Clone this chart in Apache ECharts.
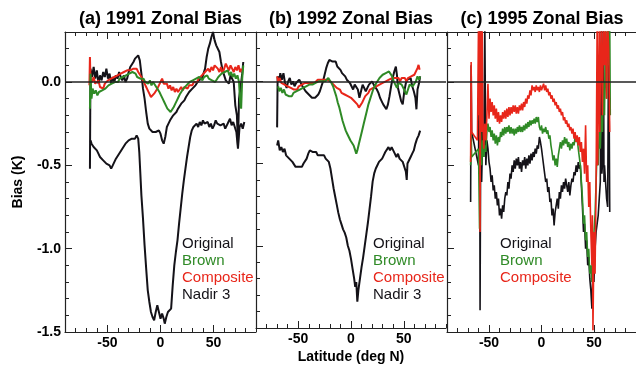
<!DOCTYPE html>
<html>
<head>
<meta charset="utf-8">
<script src="https://cdn.jsdelivr.net/npm/echarts@6/dist/echarts.min.js"></script>
<style>
  html, body { margin: 0; padding: 0; background: #fff; }
  #chart { width: 636px; height: 369px; }
</style>
</head>
<body>
<div id="chart"></div>
<script>
// zonal bias (K) vs latitude (deg N)
const panelTitles = ['(a) 1991 Zonal Bias', '(b) 1992 Zonal Bias', '(c) 1995 Zonal Bias'];
const xLabels = [-50, 0, 50];
const yLabels = [0, -0.5, -1.0, -1.5];

const orig1991 = [[-66.5,-0.52],[-66,0.08],[-64.5,0.03],[-63,0.09],[-61.5,0.02],[-60,0.07],[-58.5,-0.01],[-57,0.04],[-55.5,0.01],[-54,0.06],[-52.5,0.03],[-51,0.08],[-49.5,0.02],[-48,0.05],[-46.5,-0.01],[-45,0.03],[-43.5,0.0],[-42,0.04],[-40.5,0.02],[-39,0.06],[-37.5,0.03],[-36,0.01],[-34.5,0.04],[-33,0.0],[-31.5,0.02],[-30,0.06],[-28.5,0.09],[-27,0.1],[-25.5,0.12],[-24,0.14],[-22.5,0.15],[-21,0.16],[-19.5,0.13],[-18,0.05],[-16.5,-0.04],[-15,-0.1],[-13.5,-0.18],[-12,-0.25],[-10.5,-0.28],[-9,-0.29],[-7.5,-0.3],[-6,-0.29],[-4.5,-0.3],[-3,-0.3],[-1.5,-0.29],[0,-0.31],[1.5,-0.35],[3,-0.37],[4.5,-0.33],[6,-0.27],[7.5,-0.25],[9,-0.23],[10.5,-0.22],[12,-0.2],[13.5,-0.19],[15,-0.18],[16.5,-0.16],[18,-0.15],[19.5,-0.13],[21,-0.12],[22.5,-0.11],[24,-0.09],[25.5,-0.08],[27,-0.06],[28.5,-0.05],[30,-0.04],[31.5,-0.03],[33,-0.02],[34.5,-0.01],[36,0.01],[37.5,0.0],[39,0.02],[40.5,0.03],[42,0.08],[43.5,0.15],[45,0.2],[46.5,0.23],[48,0.27],[49.5,0.3],[51,0.25],[52.5,0.22],[54,0.23],[55.5,0.18],[57,0.12],[58.5,0.07],[60,0.04],[61.5,0.01],[63,0.02],[64.5,-0.01],[66,0.04],[67.5,0.03],[69,0.0],[70.5,-0.14],[72,-0.2],[73,-0.38],[74,-0.1],[75.5,-0.03],[77,0.05],[78,0.12]];
const brown1991 = [[-66.5,-0.16],[-66,0.05],[-65,-0.1],[-64,-0.04],[-62.5,-0.07],[-61,-0.05],[-59.5,-0.08],[-58,-0.06],[-56.5,-0.07],[-55,-0.05],[-53.5,-0.06],[-52,-0.04],[-50.5,-0.05],[-49,-0.02],[-47.5,-0.03],[-46,-0.01],[-44.5,-0.02],[-43,0.0],[-41.5,0.01],[-40,0.0],[-38.5,0.02],[-37,0.01],[-35.5,0.03],[-34,0.02],[-32.5,0.04],[-31,0.03],[-29.5,0.05],[-28,0.04],[-26.5,0.06],[-25,0.07],[-23.5,0.05],[-22,0.03],[-20.5,0.04],[-19,0.02],[-17.5,0.01],[-16,0.02],[-14.5,0.0],[-13,0.01],[-11.5,-0.01],[-10,0.01],[-8.5,-0.02],[-7,0.0],[-5.5,-0.01],[-4,-0.03],[-2.5,-0.04],[-1,-0.06],[0.5,-0.08],[2,-0.1],[3.5,-0.12],[5,-0.14],[6.5,-0.16],[8,-0.17],[9.5,-0.18],[11,-0.17],[12.5,-0.15],[14,-0.13],[15.5,-0.11],[17,-0.09],[18.5,-0.07],[20,-0.06],[21.5,-0.04],[23,-0.03],[24.5,-0.02],[26,-0.01],[27.5,0.0],[29,-0.01],[30.5,0.01],[32,0.0],[33.5,0.02],[35,0.01],[36.5,0.03],[38,0.02],[39.5,0.01],[41,0.03],[42.5,0.02],[44,0.04],[45.5,0.02],[47,0.03],[48.5,0.01],[50,0.02],[51.5,0.0],[53,0.01],[54.5,0.03],[56,0.02],[57.5,0.05],[59,0.04],[60.5,0.06],[62,0.05],[63.5,0.07],[65,0.04],[66.5,0.06],[68,0.03],[69.5,0.05],[71,0.02],[72.5,0.04],[74,0.0],[75,-0.12],[76,-0.16],[77,0.02],[78,0.1]];
const comp1991 = [[-67,-0.02],[-66.5,0.15],[-66,0.02],[-64.5,0.0],[-63,0.03],[-61.5,-0.01],[-60,-0.02],[-58.5,0.01],[-57,-0.03],[-55.5,-0.02],[-54,-0.04],[-52.5,-0.01],[-51,-0.02],[-49.5,0.01],[-48,0.0],[-46.5,0.02],[-45,0.01],[-43.5,0.03],[-42,0.02],[-40.5,0.04],[-39,0.03],[-37.5,0.05],[-36,0.04],[-34.5,0.06],[-33,0.05],[-31.5,0.07],[-30,0.06],[-28.5,0.07],[-27,0.06],[-25.5,0.08],[-24,0.07],[-22.5,0.08],[-21,0.06],[-19.5,0.05],[-18,0.03],[-16.5,0.02],[-15,-0.01],[-13.5,-0.03],[-12,-0.05],[-10.5,-0.07],[-9,-0.09],[-7.5,-0.1],[-6,-0.07],[-4.5,-0.08],[-3,-0.04],[-1.5,-0.02],[0,0.0],[1.5,0.02],[3,-0.01],[4.5,-0.02],[6,-0.01],[7.5,-0.04],[9,-0.02],[10.5,-0.05],[12,-0.03],[13.5,-0.06],[15,-0.04],[16.5,-0.06],[18,-0.05],[19.5,-0.03],[21,-0.05],[22.5,-0.03],[24,-0.02],[25.5,-0.04],[27,-0.02],[28.5,-0.01],[30,-0.02],[31.5,0.0],[33,0.01],[34.5,0.0],[36,0.02],[37.5,0.01],[39,0.04],[40.5,0.03],[42,0.06],[43.5,0.05],[45,0.08],[46.5,0.06],[48,0.09],[49.5,0.07],[51,0.1],[52.5,0.11],[54,0.08],[55.5,0.06],[57,0.09],[58.5,0.05],[60,0.08],[61.5,0.11],[63,0.09],[64.5,0.07],[66,0.1],[67.5,0.08],[69,0.06],[70.5,0.09],[72,0.07],[73.5,0.1],[75,0.06],[76.5,0.08]];
const nadir1991 = [[-66,-0.35],[-65,-0.37],[-64,-0.36],[-63,-0.39],[-61.5,-0.38],[-60,-0.41],[-58.5,-0.43],[-57,-0.45],[-55.5,-0.44],[-54,-0.47],[-52.5,-0.46],[-51,-0.49],[-49.5,-0.48],[-48,-0.5],[-46.5,-0.52],[-45,-0.5],[-43.5,-0.49],[-42,-0.46],[-40.5,-0.46],[-39,-0.43],[-37.5,-0.42],[-36,-0.4],[-34.5,-0.4],[-33,-0.37],[-31.5,-0.37],[-30,-0.35],[-28.5,-0.36],[-27,-0.34],[-25.5,-0.33],[-24,-0.34],[-22.5,-0.32],[-21,-0.34],[-20,-0.42],[-19,-0.55],[-18,-0.68],[-16.5,-0.82],[-15,-0.98],[-13.5,-1.12],[-12,-1.25],[-10.5,-1.32],[-9,-1.38],[-7.5,-1.41],[-6,-1.43],[-4.5,-1.38],[-3,-1.34],[-1.5,-1.38],[0,-1.42],[1.5,-1.39],[3,-1.42],[4,-1.45],[5.5,-1.41],[7,-1.38],[8.5,-1.39],[10,-1.36],[11.5,-1.22],[13,-1.1],[14.5,-1.02],[16,-0.95],[17.5,-0.85],[19,-0.76],[20.5,-0.67],[22,-0.59],[23.5,-0.52],[25,-0.45],[26.5,-0.39],[28,-0.33],[29.5,-0.29],[31,-0.27],[32.5,-0.26],[34,-0.25],[35.5,-0.27],[37,-0.24],[38.5,-0.26],[40,-0.23],[41.5,-0.25],[43,-0.26],[44.5,-0.24],[46,-0.27],[47.5,-0.25],[49,-0.28],[50.5,-0.26],[52,-0.23],[53.5,-0.25],[55,-0.24],[56.5,-0.26],[58,-0.27],[59.5,-0.25],[61,-0.28],[62.5,-0.26],[64,-0.24],[65.5,-0.22],[67,-0.26],[68.5,-0.24],[70,-0.27],[71.5,-0.3],[73,-0.4],[74.5,-0.27],[76,-0.25],[77.5,-0.28],[79,-0.24]];

const orig1992 = [[-70,-0.28],[-69.5,0.03],[-68,0.0],[-67,0.05],[-65.5,0.01],[-64,0.05],[-62.5,-0.01],[-61,-0.04],[-59.5,0.0],[-58,0.02],[-56.5,-0.02],[-55,0.0],[-53.5,-0.03],[-52,-0.01],[-50.5,-0.02],[-49,0.01],[-47.5,-0.01],[-46,-0.03],[-44.5,-0.04],[-43,-0.06],[-41.5,-0.07],[-40,-0.08],[-38.5,-0.09],[-37,-0.1],[-35.5,-0.09],[-34,-0.1],[-32.5,-0.09],[-31,-0.08],[-29.5,-0.06],[-28,-0.03],[-26.5,0.0],[-25,0.04],[-23.5,0.08],[-22,0.11],[-20.5,0.13],[-19,0.14],[-17.5,0.12],[-16,0.11],[-14.5,0.12],[-13,0.09],[-11.5,0.08],[-10,0.07],[-8.5,0.05],[-7,0.04],[-5.5,0.03],[-4,0.01],[-2.5,0.02],[-1,-0.01],[0.5,-0.02],[2,-0.05],[3.5,-0.02],[5,-0.01],[6.5,-0.05],[8,-0.1],[9.5,-0.06],[11,-0.02],[12.5,-0.03],[14,-0.06],[15.5,-0.04],[17,-0.02],[18.5,-0.01],[20,0.0],[21.5,-0.02],[23,-0.03],[24.5,-0.05],[26,-0.07],[27.5,-0.1],[29,-0.12],[30.5,-0.14],[32,-0.15],[33.5,-0.17],[35,-0.14],[36.5,-0.09],[38,-0.03],[39.5,0.02],[41,0.06],[42.5,0.09],[43.5,0.04],[44.5,-0.04],[46,-0.08],[47.5,-0.12],[49,-0.14],[50.5,-0.06],[52,-0.01],[53.5,0.01],[55,0.0],[56.5,0.02],[58,-0.03],[59.5,-0.06],[61,-0.1],[62,-0.17],[63,-0.05],[64.5,-0.01],[65.5,0.03]];
const brown1992 = [[-69,-0.03],[-68,-0.06],[-66.5,-0.04],[-65,-0.07],[-63.5,-0.05],[-62,-0.08],[-60.5,-0.07],[-59,-0.09],[-57.5,-0.08],[-56,-0.09],[-54.5,-0.07],[-53,-0.08],[-51.5,-0.06],[-50,-0.07],[-48.5,-0.05],[-47,-0.06],[-45.5,-0.04],[-44,-0.05],[-42.5,-0.03],[-41,-0.04],[-39.5,-0.02],[-38,-0.03],[-36.5,-0.02],[-35,-0.03],[-33.5,-0.01],[-32,-0.02],[-30.5,0.0],[-29,-0.01],[-27.5,0.0],[-26,0.01],[-24.5,0.0],[-23,0.01],[-21.5,0.02],[-20,0.01],[-18.5,-0.01],[-17,-0.03],[-15.5,-0.06],[-14,-0.09],[-12.5,-0.13],[-11,-0.16],[-9.5,-0.2],[-8,-0.24],[-6.5,-0.27],[-5,-0.3],[-3.5,-0.32],[-2,-0.34],[-0.5,-0.36],[1,-0.37],[2.5,-0.39],[4,-0.42],[5,-0.44],[6,-0.42],[7.5,-0.38],[9,-0.34],[10.5,-0.3],[12,-0.26],[13.5,-0.22],[15,-0.18],[16.5,-0.14],[18,-0.11],[19.5,-0.08],[21,-0.05],[22.5,-0.03],[24,-0.01],[25.5,0.0],[27,0.02],[28.5,0.03],[30,0.04],[31.5,0.03],[33,0.05],[34.5,0.04],[36,0.06],[37.5,0.05],[39,0.03],[40.5,0.0],[42,-0.02],[43.5,-0.04],[45,-0.01],[46.5,0.0],[48,-0.02],[49.5,-0.04],[51,-0.06],[52.5,-0.08],[54,-0.05],[55.5,-0.02],[57,-0.01],[58.5,-0.03],[60,-0.04],[61.5,0.0],[63,0.03],[64.5,0.01],[65.5,0.03]];
const comp1992 = [[-70,0.03],[-69,0.0],[-67.5,0.02],[-66,-0.01],[-64.5,0.0],[-63,-0.02],[-61.5,-0.01],[-60,-0.03],[-58.5,-0.02],[-57,-0.04],[-55.5,-0.03],[-54,-0.05],[-52.5,-0.04],[-51,-0.05],[-49.5,-0.03],[-48,-0.04],[-46.5,-0.02],[-45,-0.03],[-43.5,-0.01],[-42,-0.02],[-40.5,-0.01],[-39,0.0],[-37.5,-0.01],[-36,0.0],[-34.5,-0.01],[-33,0.0],[-31.5,0.01],[-30,0.0],[-28.5,0.01],[-27,0.0],[-25.5,0.01],[-24,0.02],[-22.5,0.01],[-21,0.02],[-19.5,0.0],[-18,-0.01],[-16.5,-0.02],[-15,-0.03],[-13.5,-0.04],[-12,-0.05],[-10.5,-0.05],[-9,-0.07],[-7.5,-0.06],[-6,-0.08],[-4.5,-0.07],[-3,-0.09],[-1.5,-0.08],[0,-0.1],[1.5,-0.11],[3,-0.12],[4.5,-0.13],[6,-0.14],[7.5,-0.16],[9,-0.15],[10.5,-0.13],[12,-0.11],[13.5,-0.09],[15,-0.08],[16.5,-0.07],[18,-0.05],[19.5,-0.06],[21,-0.04],[22.5,-0.05],[24,-0.03],[25.5,-0.04],[27,-0.02],[28.5,-0.03],[30,-0.01],[31.5,-0.02],[33,0.0],[34.5,-0.01],[36,0.01],[37.5,0.0],[39,0.02],[40.5,0.01],[42,0.02],[43.5,0.01],[45,0.02],[46.5,0.0],[48,0.02],[49.5,0.01],[51,0.02],[52.5,0.0],[54,0.02],[55.5,0.01],[57,0.03],[58.5,0.02],[60,0.04],[61.5,0.03],[63,0.08],[64,0.1],[65,0.07]];
const nadir1992 = [[-70,-0.39],[-69,-0.36],[-67.5,-0.42],[-66,-0.4],[-64.5,-0.43],[-63,-0.41],[-61.5,-0.45],[-60,-0.44],[-58.5,-0.47],[-57,-0.46],[-55.5,-0.49],[-54,-0.5],[-52.5,-0.52],[-51,-0.53],[-49.5,-0.52],[-48,-0.53],[-46.5,-0.52],[-45,-0.5],[-43.5,-0.49],[-42,-0.47],[-40.5,-0.44],[-39,-0.42],[-37.5,-0.41],[-36,-0.43],[-34.5,-0.44],[-33,-0.43],[-31.5,-0.45],[-30,-0.44],[-28.5,-0.45],[-27,-0.46],[-25.5,-0.45],[-24,-0.47],[-22.5,-0.46],[-21,-0.49],[-19.5,-0.53],[-18,-0.59],[-16.5,-0.65],[-15,-0.7],[-13.5,-0.75],[-12,-0.8],[-10.5,-0.84],[-9,-0.87],[-7.5,-0.9],[-6,-0.92],[-4.5,-0.95],[-3,-1.0],[-1.5,-1.03],[0,-1.08],[1.5,-1.14],[3,-1.2],[4,-1.25],[5,-1.22],[6,-1.34],[7,-1.27],[8.5,-1.2],[10,-1.13],[11.5,-1.07],[13,-1.0],[14.5,-0.93],[16,-0.86],[17.5,-0.78],[19,-0.7],[20.5,-0.61],[22,-0.56],[23.5,-0.53],[25,-0.51],[26.5,-0.49],[28,-0.48],[29.5,-0.47],[31,-0.45],[32.5,-0.43],[34,-0.42],[35.5,-0.4],[37,-0.42],[38.5,-0.4],[40,-0.42],[41.5,-0.44],[43,-0.46],[44.5,-0.44],[46,-0.47],[47.5,-0.46],[49,-0.49],[50.5,-0.5],[52,-0.55],[52.8,-0.6],[53.5,-0.5],[55,-0.48],[56.5,-0.46],[58,-0.44],[59.5,-0.42],[61,-0.38],[62.5,-0.35],[64,-0.33],[65.5,-0.3]];

const orig1995 = [[-67.5,-0.72],[-67,0.1],[-66.5,-0.3],[-60,-0.5],[-59,0.35],[-58.5,-1.37],[-57.5,0.35],[-57,-0.6],[-56,-0.3],[-55,-0.45],[-54,0.35],[-53,-0.5],[-52,-0.35],[-51,-0.4],[-50,-0.48],[-49,-0.52],[-48,-0.6],[-47,-0.56],[-46,-0.65],[-45,-0.62],[-44,-0.7],[-43,-0.66],[-42,-0.74],[-41,-0.7],[-40,-0.8],[-39,-0.76],[-38,-0.82],[-37,-0.74],[-36,-0.78],[-35,-0.7],[-34,-0.66],[-33,-0.68],[-32,-0.6],[-31,-0.64],[-30,-0.55],[-29,-0.58],[-28,-0.5],[-27,-0.54],[-26,-0.47],[-25,-0.52],[-24,-0.46],[-23,-0.5],[-22,-0.45],[-21,-0.52],[-20,-0.48],[-19,-0.54],[-18,-0.47],[-17,-0.5],[-16,-0.45],[-15,-0.52],[-14,-0.46],[-13,-0.5],[-12,-0.44],[-11,-0.49],[-10,-0.43],[-9,-0.47],[-8,-0.42],[-7,-0.45],[-6,-0.4],[-5,-0.43],[-4,-0.38],[-3,-0.4],[-2,-0.33],[-1,-0.36],[0,-0.4],[1,-0.45],[2,-0.5],[3,-0.55],[4,-0.6],[5,-0.58],[6,-0.66],[7,-0.63],[8,-0.72],[9,-0.7],[10,-0.8],[11,-0.76],[12,-0.86],[13,-0.78],[14,-0.74],[15,-0.7],[16,-0.76],[17,-0.66],[18,-0.7],[19,-0.62],[20,-0.66],[21,-0.6],[22,-0.64],[23,-0.58],[24,-0.62],[25,-0.66],[26,-0.6],[27,-0.68],[28,-0.62],[29,-0.58],[30,-0.6],[31,-0.54],[32,-0.56],[33,-0.5],[34,-0.54],[35,-0.48],[36,-0.52],[37,-0.5],[38,-0.62],[39,-0.75],[40,-0.9],[41,-0.85],[42,-1.0],[43,-0.95],[44,-1.1],[45,-1.05],[46,-1.18],[47,-1.25],[48,-1.36],[49,-1.1],[50,-1.2],[51,-1.0],[52,-0.9],[53,-0.85],[54,-0.8],[55,-0.7],[56,-0.6],[57,0.35],[57.5,-0.55],[58,-0.5],[59,0.35],[59.5,-0.6],[60,-0.5],[61,-0.6],[62,-0.7],[63,-0.75],[64,0.35],[65,-0.78]];
const brown1995 = [[-67.5,-0.5],[-67,-0.3],[-66.5,-0.45],[-60,-0.4],[-59,-0.88],[-58.5,-0.2],[-57,-0.5],[-56,-0.35],[-55,-0.45],[-54,-0.38],[-53,-0.42],[-52,-0.3],[-51,-0.25],[-50,-0.3],[-49,-0.27],[-48,-0.33],[-47,-0.29],[-46,-0.35],[-45,-0.31],[-44,-0.37],[-43,-0.32],[-42,-0.38],[-41,-0.33],[-40,-0.36],[-39,-0.3],[-38,-0.33],[-37,-0.28],[-36,-0.32],[-35,-0.27],[-34,-0.31],[-33,-0.27],[-32,-0.3],[-31,-0.26],[-30,-0.31],[-29,-0.27],[-28,-0.31],[-27,-0.28],[-26,-0.32],[-25,-0.28],[-24,-0.31],[-23,-0.27],[-22,-0.3],[-21,-0.26],[-20,-0.3],[-19,-0.27],[-18,-0.3],[-17,-0.26],[-16,-0.29],[-15,-0.25],[-14,-0.28],[-13,-0.24],[-12,-0.27],[-11,-0.23],[-10,-0.26],[-9,-0.23],[-8,-0.25],[-7,-0.22],[-6,-0.25],[-5,-0.21],[-4,-0.24],[-3,-0.21],[-2,-0.27],[-1,-0.29],[0,-0.26],[1,-0.31],[2,-0.28],[3,-0.3],[4,-0.27],[5,-0.31],[6,-0.29],[7,-0.34],[8,-0.32],[9,-0.38],[10,-0.42],[11,-0.47],[12,-0.44],[13,-0.5],[14,-0.46],[15,-0.51],[16,-0.44],[17,-0.4],[18,-0.36],[19,-0.4],[20,-0.35],[21,-0.38],[22,-0.33],[23,-0.37],[24,-0.34],[25,-0.39],[26,-0.36],[27,-0.41],[28,-0.37],[29,-0.4],[30,-0.36],[31,-0.38],[32,-0.33],[33,-0.36],[34,-0.34],[35,-0.4],[36,-0.45],[37,-0.5],[38,-0.6],[39,-0.7],[40,-0.85],[41,-0.8],[42,-0.95],[43,-0.9],[44,-1.05],[45,-1.0],[46,-1.15],[47,-1.1],[48,-1.2],[49,-1.0],[50,-0.9],[51,-0.8],[52,-0.6],[53,-0.4],[54,-0.5],[55,-0.3],[56,-0.4],[57,-0.2],[58,-0.3],[59,0.0],[60,-0.2],[61,0.35],[62,-0.1],[63,0.35],[64,0.1],[65,0.35],[65.5,-0.2]];
const comp1995 = [[-67.5,-0.48],[-67,0.12],[-66.5,-0.3],[-61,-0.35],[-60,0.35],[-59.5,-0.2],[-59,0.35],[-58.5,-0.9],[-58,0.35],[-57,-0.3],[-56.5,0.35],[-56,-0.2],[-55,-0.4],[-54,-0.25],[-53,-0.35],[-52,-0.2],[-51,-0.01],[-50,-0.22],[-49,-0.1],[-48,-0.18],[-47,-0.12],[-46,-0.2],[-45,-0.14],[-44,-0.22],[-43,-0.16],[-42,-0.24],[-41,-0.18],[-40,-0.25],[-39,-0.2],[-38,-0.24],[-37,-0.18],[-36,-0.22],[-35,-0.17],[-34,-0.22],[-33,-0.16],[-32,-0.21],[-31,-0.15],[-30,-0.2],[-29,-0.15],[-28,-0.19],[-27,-0.14],[-26,-0.18],[-25,-0.14],[-24,-0.19],[-23,-0.15],[-22,-0.19],[-21,-0.14],[-20,-0.17],[-19,-0.13],[-18,-0.17],[-17,-0.12],[-16,-0.15],[-15,-0.1],[-14,-0.13],[-13,-0.08],[-12,-0.1],[-11,-0.05],[-10,-0.08],[-9,-0.02],[-8,-0.05],[-7,-0.03],[-6,-0.06],[-5,-0.02],[-4,-0.05],[-3,-0.03],[-2,-0.06],[-1,-0.02],[0,-0.05],[1,-0.03],[2,-0.01],[3,-0.05],[4,-0.02],[5,-0.06],[6,-0.04],[7,-0.08],[8,-0.06],[9,-0.1],[10,-0.08],[11,-0.12],[12,-0.1],[13,-0.14],[14,-0.12],[15,-0.16],[16,-0.14],[17,-0.18],[18,-0.16],[19,-0.2],[20,-0.18],[21,-0.23],[22,-0.21],[23,-0.25],[24,-0.23],[25,-0.27],[26,-0.25],[27,-0.29],[28,-0.27],[29,-0.31],[30,-0.28],[31,-0.34],[32,-0.3],[33,-0.36],[34,-0.32],[35,-0.38],[36,-0.33],[37,-0.42],[38,-0.36],[39,-0.48],[40,-0.4],[41,-0.55],[42,-0.26],[43,-0.6],[44,-0.5],[45,-0.75],[46,-0.6],[47,-0.9],[48,-1.1],[48.5,-0.8],[49,-1.49],[49.5,-1.2],[50,-0.9],[51,-1.15],[52,-0.6],[53,0.35],[53.5,-0.5],[54,-0.2],[55,0.35],[55.5,-0.3],[56,0.0],[57,0.35],[58,-0.2],[59,0.35],[60,0.1],[61,0.35],[62,-0.1],[63,0.35],[64,0.2],[65,-0.3]];

const BLACK = '#141218', GREEN = '#2f8a26', RED = '#e8261a';
const FONT = '"Liberation Sans", Arial, Helvetica, sans-serif';

const grids = [
  { left: 65, top: 32, width: 191, height: 300 },
  { left: 256, top: 32, width: 190, height: 300 },
  { left: 447, top: 32, width: 190, height: 300 }
];

let xAxes = [], yAxes = [], titles = [], series = [], legends = [];
const axisLine = { show: true, onZero: false, lineStyle: { color: '#222', width: 1.2 } };
const noLine = { show: false, onZero: false };
const tickStyle = { color: '#222', width: 1 };

grids.forEach((g, i) => {
  const base = { gridIndex: i, type: 'value', min: -90, max: 90, interval: 10, splitLine: { show: false } };
  xAxes.push(Object.assign({}, base, {
    position: 'bottom', axisLine: axisLine,
    axisTick: { show: true, inside: true, length: 4, lineStyle: tickStyle },
    axisLabel: { show: true, customValues: xLabels, margin: 4, color: '#000', fontSize: 14, fontWeight: 'bold', fontFamily: FONT },
    name: i === 1 ? 'Latitude (deg N)' : '', nameLocation: 'middle', nameGap: 22, nameMoveOverlap: false,
    nameTextStyle: { color: '#000', fontSize: 14, fontWeight: 'bold', fontFamily: FONT }
  }));
  xAxes.push(Object.assign({}, base, {
    position: 'bottom', axisLine: noLine, axisLabel: { show: false },
    axisTick: { show: true, inside: true, length: 7, customValues: xLabels, lineStyle: tickStyle }
  }));
  xAxes.push(Object.assign({}, base, {
    position: 'top', axisLine: axisLine, axisLabel: { show: false },
    axisTick: { show: true, inside: true, length: 4, lineStyle: tickStyle }
  }));
  xAxes.push(Object.assign({}, base, {
    position: 'top', axisLine: noLine, axisLabel: { show: false },
    axisTick: { show: true, inside: true, length: 7, customValues: xLabels, lineStyle: tickStyle }
  }));

  const ybase = { gridIndex: i, type: 'value', min: -1.5, max: 0.3, interval: 0.1, splitLine: { show: false }, position: 'left' };
  yAxes.push(Object.assign({}, ybase, {
    axisLine: axisLine,
    axisTick: { show: true, inside: true, length: 4, lineStyle: tickStyle },
    axisLabel: { show: i === 0, customValues: yLabels, margin: 4, color: '#000', fontSize: 14, fontWeight: 'bold', fontFamily: FONT,
      formatter: v => v.toFixed(1) },
    name: i === 0 ? 'Bias (K)' : '', nameLocation: 'middle', nameGap: 40, nameRotate: 90,
    nameTextStyle: { color: '#000', fontSize: 14, fontWeight: 'bold', fontFamily: FONT }
  }));
  yAxes.push(Object.assign({}, ybase, {
    axisLine: noLine, axisLabel: { show: false },
    axisTick: { show: true, inside: true, length: 7, customValues: yLabels, lineStyle: tickStyle }
  }));

  titles.push({
    text: panelTitles[i], left: g.left + g.width / 2, top: 10, textAlign: 'center', padding: 0,
    textStyle: { fontSize: 18, fontWeight: 'bold', color: '#000', fontFamily: FONT }
  });
});

function line(name, data, color, panel, width) {
  return {
    name: name, type: 'line', data: data, xAxisIndex: panel * 4, yAxisIndex: panel * 2,
    showSymbol: false, symbol: 'none', clip: true,
    lineStyle: { color: color, width: width }, itemStyle: { color: color }
  };
}

const zeroLine = {
  silent: true, symbol: ['none', 'none'], label: { show: false },
  lineStyle: { color: '#222', width: 1.5, type: 'solid' }, data: [{ yAxis: 0 }]
};

const panelData = [
  [nadir1991, orig1991, comp1991, brown1991],
  [nadir1992, orig1992, comp1992, brown1992],
  [null, orig1995, brown1995, comp1995]
];
panelData.forEach((p, i) => {
  const w = i === 2 ? 1.6 : 2;
  let s = [];
  if (p[0]) s.push(line('Nadir 3', p[0], BLACK, i, w));
  s.push(line('Original', p[1], BLACK, i, w));
  if (i === 2) {
    s.push(line('Brown', p[2], GREEN, i, w));
    s.push(line('Composite', p[3], RED, i, w));
  } else {
    s.push(line('Composite', p[2], RED, i, w));
    s.push(line('Brown', p[3], GREEN, i, w));
  }
  s[0].markLine = zeroLine;
  series = series.concat(s);
});

const legendItems = [
  { name: 'Original', textStyle: { color: BLACK } },
  { name: 'Brown', textStyle: { color: GREEN } },
  { name: 'Composite', textStyle: { color: RED } },
  { name: 'Nadir 3', textStyle: { color: BLACK } }
];
[177, 368, 495].forEach((x, i) => {
  legends.push({
    orient: 'vertical', left: x, top: 235, padding: 0, itemGap: 0, itemWidth: 0, itemHeight: 0,
    selectedMode: false, icon: 'rect',
    textStyle: { fontSize: 15, lineHeight: 17, fontFamily: FONT },
    data: i === 2 ? legendItems.slice(0, 3) : legendItems
  });
});

let option = {
  animation: false,
  backgroundColor: '#fff',
  title: titles,
  legend: legends,
  grid: grids,
  xAxis: xAxes,
  yAxis: yAxes,
  series: series
};

let myChart = echarts.init(document.getElementById('chart'), null, { renderer: 'canvas' });
option && myChart.setOption(option);
</script>
</body>
</html>
